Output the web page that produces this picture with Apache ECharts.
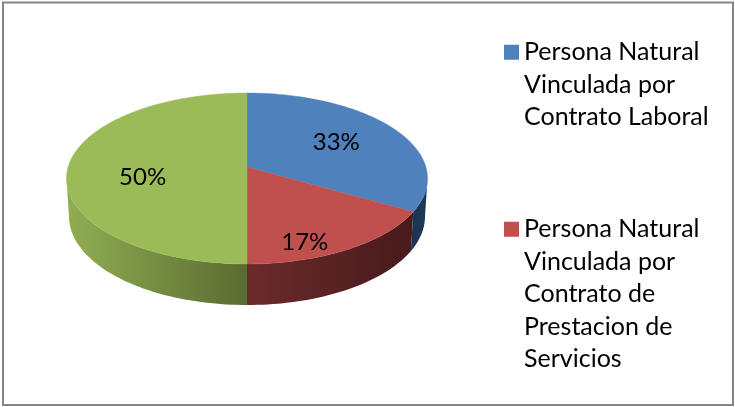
<!DOCTYPE html>
<html><head><meta charset="utf-8">
<style>html,body{margin:0;padding:0;background:#fff}#c{width:735px;height:407px}</style>
<script src="https://cdn.jsdelivr.net/npm/echarts@6/dist/echarts.min.js"></script>
</head><body><div id="c"></div>
<script>
const categories = ['Persona Natural\nVinculada por\nContrato Laboral','Persona Natural\nVinculada por\nContrato de\nPrestacion de\nServicios','Sin leyenda'];
const legendCategories = categories.slice(0,2);
const shareValues = [33.3,16.7,50];
const labelTexts = ['33%','17%','50%'];
const topColors = ['#4F81BD','#C0504D','#9BBB59'];
const wallStops = [['#1B3350','#1F3A5A'],['#6B2B2B','#471A1B'],['#91AE53','#5A6B30']];

const topDisk = {cx:247,cy:167,bx:178.9,ay:83.95,k:0.1345};
const baseDisk = {cx:247,cy:204.5,bx:176.4,ay:87,k:0.1345};
function project(d,theta,r){
  const u=r*Math.sin(theta), v=-r*Math.cos(theta), w=1-d.k*v;
  return [d.cx+d.bx*u/w, d.cy+d.ay*v/w];
}
const total = shareValues.reduce((a,b)=>a+b,0);
const labelR = 0.6, labelDx=[0,0,3], labelDy=[0,28,10], labelFont=24;
const rad = d=>d*Math.PI/180;
const silhouette = Math.acos(-topDisk.k)*180/Math.PI;
let acc=0;
const spans = shareValues.map(v=>{const s=[acc,acc+v/total*360];acc=s[1];return s;});

function arc(d,a,b){const pts=[],n=Math.max(2,Math.ceil((b-a)/1.5));
  for(let i=0;i<=n;i++)pts.push(project(d,rad(a+(b-a)*i/n),1));return pts;}

function renderSlice(idx){
  return function(){
    const [a,b]=spans[idx],children=[];
    const wa=Math.max(a,silhouette), wb=Math.min(b,360-silhouette);
    if(wb>wa){
      const pts=arc(topDisk,wa,wb).concat(arc(baseDisk,wa,wb).reverse());
      const fill={type:'linear',x:0,y:0,x2:1,y2:0,colorStops:[
        {offset:0,color:wallStops[idx][0]},{offset:1,color:wallStops[idx][1]}]};
      children.push({type:'polygon',shape:{points:pts},style:{fill:fill}});
    }
    const face=[[topDisk.cx,topDisk.cy]].concat(arc(topDisk,a,b));
    children.push({type:'polygon',shape:{points:face},style:{fill:topColors[idx],stroke:topColors[idx],lineWidth:0.4}});
    const m=project(topDisk,rad((a+b)/2),labelR);
    children.push({type:'text',style:{text:labelTexts[idx],x:m[0]+labelDx[idx],y:m[1]+labelDy[idx],align:'center',verticalAlign:'middle',
      fill:'#000',fontFamily:'Lato',fontSize:labelFont},z2:10});
    return {type:'group',children};
  };
}
const lineH=32.5, boxH=lineH*5;
function legendIcon(lines){
  const top=boxH/2-lines*lineH/2+lineH/2-7.5;
  return 'path://M0,0L0.01,0ZM0,'+top+'H15V'+(top+15)+'H0ZM15,'+boxH+'L14.99,'+boxH+'Z';
}
const chart=echarts.init(document.getElementById('c'),null,{renderer:'canvas'});
chart.setOption({
  animation:false,
  backgroundColor:'#fff',
  graphic:[{type:'rect',shape:{x:3,y:2.5,width:730,height:402.5},style:{fill:'none',stroke:'#868686',lineWidth:2},silent:true}],
  legend:{
    orient:'vertical',left:504,top:3.5,padding:0,selectedMode:false,itemWidth:15,itemHeight:boxH,itemGap:47,
    textStyle:{fontFamily:'Lato',fontSize:25,color:'#000',lineHeight:lineH},
    data:legendCategories.map(n=>({name:n,icon:legendIcon(n.split('\n').length)})),
    align:'left'
  },
  series:categories.map((n,i)=>({
    type:'custom',name:n,coordinateSystem:'none',silent:true,
    itemStyle:{color:topColors[i]},
    data:[[shareValues[i]]],
    renderItem:renderSlice(i)
  }))
});
</script></body></html>
